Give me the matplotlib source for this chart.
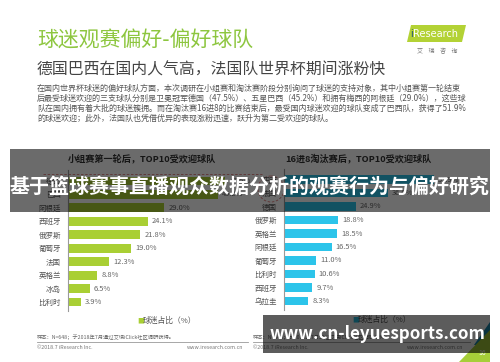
import matplotlib
matplotlib.use('Agg')
import matplotlib.pyplot as plt
from matplotlib.patches import Rectangle, Polygon, Ellipse

plt.rcParams['font.family'] = ['Noto Sans CJK SC', 'DejaVu Sans']

# ---------------- data ----------------
main_title = '球迷观赛偏好-偏好球队'
sub_title = '德国巴西在国内人气高，法国队世界杯期间涨粉快'
paragraph = [
    '在国内世界杯球迷的偏好球队方面，本次调研在小组赛和淘汰赛阶段分别询问了球迷的支持对象，其中小组赛第一轮结束',
    '后最受球迷欢迎的三支球队分别是卫冕冠军德国（47.5%）、五星巴西（45.2%）和拥有梅西的阿根廷（29.0%），这些球',
    '队在国内拥有着大批的球迷簇拥。而在淘汰赛16进8的比赛结束后，最受国内球迷欢迎的球队变成了巴西队，获得了51.9%',
    '的球迷欢迎；此外，法国队也凭借优异的表现涨粉迅速，跃升为第二受欢迎的球队。',
]
left_title = '小组赛第一轮后，TOP10受欢迎球队'
left_teams = ['德国', '巴西', '阿根廷', '西班牙', '俄罗斯', '葡萄牙', '法国', '英格兰', '冰岛', '比利时']
left_values = [47.5, 45.2, 29.0, 24.1, 21.8, 19.0, 12.3, 8.8, 6.5, 3.9]
right_title = '16进8淘汰赛后，TOP10受欢迎球队'
right_teams = ['巴西', '法国', '德国', '俄罗斯', '英格兰', '阿根廷', '葡萄牙', '比利时', '西班牙', '乌拉圭']
right_values = [51.9, 36.0, 24.9, 18.8, 18.5, 16.5, 11.0, 10.6, 9.7, 8.3]
legend_label = '球迷占比（%）'
source_note = '样本：N=648；于2018年7月通过艾瑞iClick社区调研获得。'
copyright_note = '©2018.7 iResearch Inc.'
site_note = 'www.iresearch.com.cn'
overlay_title = '基于篮球赛事直播观众数据分析的观赛行为与偏好研究'
overlay_site = 'www.cn-leyuesports.com'
page_no = '16'

LIME = '#a9cf34'
CYAN = '#2cc4ea'
GREEN_T = '#8dc63f'

W, H = 500, 362
fig = plt.figure(figsize=(5, 3.62), dpi=100)
fig.patch.set_facecolor('white')

bg = fig.add_axes([0, 0, 1, 1], zorder=0)
bg.set_xlim(0, W); bg.set_ylim(H, 0); bg.axis('off')


def px_axes(x0, y0, w, h, z):
    return fig.add_axes([x0 / W, 1 - (y0 + h) / H, w / W, h / H], zorder=z)


# header
bg.text(37, 40, main_title, fontsize=15, color=GREEN_T, ha='left', va='center')
bg.text(37, 70, sub_title, fontsize=11.4, color='#444444', ha='left', va='center')
for i, line in enumerate(paragraph):
    bg.text(37, 88 + 10 * i, line, fontsize=5.8, color='#555555', ha='left', va='center')

# logo
bg.add_patch(Polygon([(407, 42), (411, 25), (466, 25), (462, 42)], closed=True,
                     facecolor='#b3d235', edgecolor='none'))
bg.text(410, 34, 'i', fontsize=7, color='#1f4e79', ha='left', va='center', family='DejaVu Sans')
bg.text(413.5, 34, 'Research', fontsize=7, color='white', ha='left', va='center', family='DejaVu Sans')
bg.text(437, 51, '艾    瑞    咨    询', fontsize=4.3, color='#777777', ha='center', va='center')

# chart titles
bg.text(142, 158, left_title, fontsize=6.6, color='#333333', ha='center', va='center', weight='bold')
bg.text(358, 158, right_title, fontsize=6.6, color='#333333', ha='center', va='center', weight='bold')


def bar_panel(x0, c0, step, scale, xmax, teams, values, color):
    top = c0 - 0.8 * step
    h = 10.5 * step
    ax = px_axes(x0, top, xmax * scale, h, 1)
    ax.set_xlim(0, xmax)
    ax.set_ylim(9.7, -0.8)
    ax.patch.set_alpha(0)
    bars = ax.barh(range(len(teams)), values, height=0.66, color=color)
    ax.bar_label(bars, labels=[f'{v:.1f}%' for v in values], padding=3,
                 fontsize=5.4, color='#666666')
    ax.set_yticks(range(len(teams)), teams, fontsize=5.4, color='#555555')
    ax.tick_params(axis='y', length=0, pad=5)
    ax.set_xticks([])
    for s in ['top', 'right', 'bottom']:
        ax.spines[s].set_visible(False)
    ax.spines['left'].set_color('#9a9a9a')
    ax.spines['left'].set_linewidth(0.8)
    return ax


bar_panel(68, 181, 13.45, 3.31, 60, left_teams, left_values, LIME)
bar_panel(284, 179.5, 13.5, 2.89, 70, right_teams, right_values, CYAN)

# highlights
bg.plot([43, 262], [174, 174], color='#d04040', lw=0.6, ls=(0, (3, 2)), alpha=0.7)
bg.add_patch(Ellipse((271, 189), 26, 26, fill=False, edgecolor='#d04040', lw=0.6,
                     ls=(0, (3, 2)), alpha=0.7))

# legends
bg.text(137, 321, '■', fontsize=5, color=LIME, ha='left', va='center')
bg.text(143, 321, legend_label, fontsize=5.6, color='#555555', ha='left', va='center')
bg.text(352, 320, '■', fontsize=5, color=CYAN, ha='left', va='center')
bg.text(358, 320, legend_label, fontsize=5.6, color='#555555', ha='left', va='center')

# footers
bg.text(37, 337, source_note, fontsize=3.8, color='#666666', ha='left', va='center')
bg.plot([37, 248], [342, 342], color='#999999', lw=0.6)
bg.text(37, 347.5, copyright_note, fontsize=3.8, color='#777777', ha='left', va='center')
bg.text(243, 347.5, site_note, fontsize=3.8, color='#777777', ha='right', va='center')
bg.text(253, 337, source_note, fontsize=3.8, color='#666666', ha='left', va='center')
bg.plot([253, 470], [342, 342], color='#999999', lw=0.6)
bg.text(253, 347.5, copyright_note, fontsize=3.8, color='#777777', ha='left', va='center')
bg.text(463, 347.5, site_note, fontsize=3.8, color='#777777', ha='right', va='center')

# corner decoration
bg.add_patch(Polygon([(474, 345), (490, 322), (490, 334), (483, 345)], closed=True,
                     facecolor='#1b8ab0', edgecolor='none'))
bg.add_patch(Polygon([(459, 362), (490, 330), (490, 362)], closed=True,
                     facecolor='#a6ce39', edgecolor='none'))
bg.text(482, 353, page_no, fontsize=5, color='white', ha='center', va='center')

# overlay layer
ov = fig.add_axes([0, 0, 1, 1], zorder=10)
ov.set_xlim(0, W); ov.set_ylim(H, 0); ov.axis('off'); ov.patch.set_alpha(0)
ov.add_patch(Rectangle((10, 149), 480, 63, facecolor='black', alpha=0.58, edgecolor='none'))
ov.text(250, 186, overlay_title, fontsize=14.4, color='white', weight='bold',
        ha='center', va='center')
ov.add_patch(Rectangle((263, 315), 227, 38, facecolor='black', alpha=0.64, edgecolor='none'))
ov.text(377, 334, overlay_site, fontsize=12.2, color='white', weight='bold',
        ha='center', va='center')

fig.savefig('out.png', dpi=100)
